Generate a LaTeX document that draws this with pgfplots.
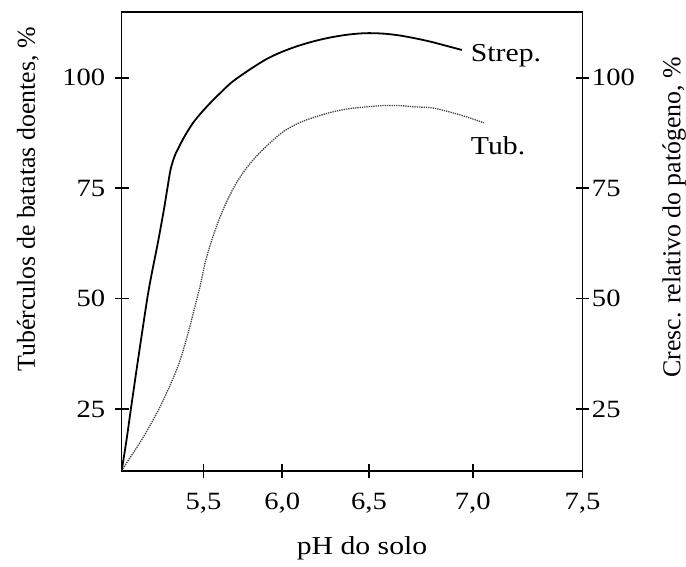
\documentclass[border=0pt]{standalone}
\usepackage{fontspec}
\setmainfont{Liberation Serif}
\newfontfamily\hfont{Liberation Serif}[FakeStretch=1.15]
\usepackage{pgfplots}
\pgfplotsset{compat=1.18}
\begin{document}
\begin{tikzpicture}
\pgfplotsset{
  common/.style={
    scale only axis, width=462bp, height=460bp,
    xmin=0, xmax=462, ymin=11, ymax=114.9,
    ytick={25,50,75,100},
    tick align=center, major tick length=14bp,
    tick style={line width=1.6bp, black},
    axis line style={line width=1.6bp},
    /pgf/number format/assume math mode=true,
    ticklabel style={font=\hfont\fontsize{25}{28}\selectfont},
  }
}
\begin{axis}[common,
  xtick={82,161,248,352,462},
  xticklabels={{5,5},{6,0},{6,5},{7,0},{7,5}},
  xtick pos=bottom, ytick pos=left,
  xticklabel style={yshift=-12bp},
  yticklabel style={xshift=-6bp},
]
\addplot[black, line width=1.8bp, smooth, tension=0.5] coordinates {
(0,11.0) (5,18.2) (9,24.6) (15,34.0) (21,43.1) (26,50.5) (30,55.5)
(36,62.3) (42,69.7) (46,75.2) (49,79.2) (53,82.2) (58,84.6) (64,87.1)
(71,89.6) (78,91.6) (88,94.1) (100,96.8) (111,99.1) (128,101.8)
(145,104.2) (161,105.9) (178,107.3) (195,108.4) (211,109.2) (228,109.8)
(245,110.1) (262,110.0) (278,109.6) (295,108.9) (311,108.1) (326,107.2)
(341,106.3)
};
\addplot[black!75, line width=1.3bp, densely dotted, smooth, tension=0.5] coordinates {
(0,11.0) (7,13.5) (15,16.2) (23,19.1) (31,22.3) (39,25.7) (46,29.1)
(53,32.7) (59,36.3) (64,40.1) (69,44.2) (74,48.7) (79,53.2) (84,58.4)
(90,63.0) (97,67.5) (105,71.8) (114,75.8) (124,79.2) (135,82.2)
(148,85.1) (162,87.8) (178,89.8) (195,91.2) (212,92.3) (228,93.0)
(245,93.4) (262,93.7) (278,93.7) (295,93.4) (311,93.2) (328,92.3)
(345,91.2) (363,89.8)
};
\node[anchor=base west, inner sep=0pt, font=\hfont\fontsize{26}{30}\selectfont] at (axis cs:350,103.6) {Strep.};
\node[anchor=base west, inner sep=0pt, font=\hfont\fontsize{26}{30}\selectfont] at (axis cs:350,82.6) {Tub.};
\end{axis}
\begin{axis}[common,
  axis x line=none, axis y line*=right,
  yticklabel style={xshift=-1bp},
]
\end{axis}
\node[rotate=90, inner sep=0pt, font=\fontsize{26}{30}\selectfont] at (-94bp,272bp) {Tubérculos de batatas doentes, \%};
\node[rotate=90, inner sep=0pt, font=\fontsize{26}{30}\selectfont] at (554bp,254bp) {Cresc. relativo do patógeno, \%};
\node[inner sep=0pt, font=\hfont\fontsize{26}{30}\selectfont] at (241bp,-78bp) {pH do solo};
\path (-122bp,-96bp) rectangle (564bp,472bp);
\end{tikzpicture}
\end{document}
